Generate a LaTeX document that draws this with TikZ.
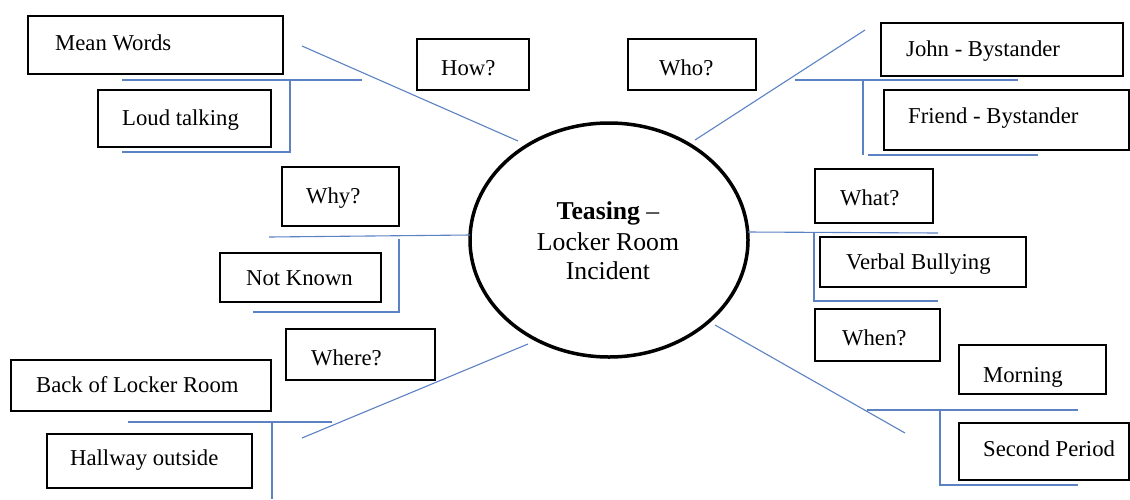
\documentclass[tikz,border=0pt]{standalone}
\usepackage{fontspec}
\setmainfont{Liberation Serif}
\usetikzlibrary{shapes.geometric}
\definecolor{linkblue}{RGB}{92,130,196}
\tikzset{
  box/.style={draw=black, line width=2.2pt, inner sep=0pt, anchor=north west},
  txt/.style={anchor=base west, inner sep=0pt, font=\fontsize{22.7}{27}\selectfont},
  conn/.style={draw=linkblue, line width=1.1pt},
  hub/.style={ellipse, draw=black, line width=3.5pt, minimum width=278pt, minimum height=234pt, inner sep=0pt}
}
\begin{document}
\begin{tikzpicture}[x=1pt,y=-1pt]
\useasboundingbox (0,0) rectangle (1130,499);
\fill[white] (0,0) rectangle (1130,499);

% central ellipse
\node[hub] (hub) at (609,240) {};
\node[anchor=base, inner sep=0pt, font=\fontsize{25.7}{30}\selectfont] (t1) at (608,219) {\textbf{Teasing} --};
\node[anchor=base, inner sep=0pt, font=\fontsize{25.7}{30}\selectfont] (t2) at (608,250) {Locker Room};
\node[anchor=base, inner sep=0pt, font=\fontsize{25.7}{30}\selectfont] (t3) at (608,279) {Incident};

% boxes
\node[box, minimum width=255pt, minimum height=58pt] (bmean) at (27,15) {};
\node[box, minimum width=173pt, minimum height=57pt] (bloud) at (97,89) {};
\node[box, minimum width=112pt, minimum height=51pt] (bhow) at (416,38) {};
\node[box, minimum width=128pt, minimum height=51pt] (bwho) at (627,38) {};
\node[box, minimum width=242pt, minimum height=53pt] (bjohn) at (880,22) {};
\node[box, minimum width=245pt, minimum height=60pt] (bfriend) at (883,89) {};
\node[box, minimum width=117pt, minimum height=59pt] (bwhy) at (281,166) {};
\node[box, minimum width=161pt, minimum height=49pt] (bnot) at (219,252) {};
\node[box, minimum width=118pt, minimum height=54pt] (bwhat) at (814,168) {};
\node[box, minimum width=206pt, minimum height=50pt] (bverbal) at (819,236) {};
\node[box, minimum width=125pt, minimum height=52pt] (bwhen) at (814,308) {};
\node[box, minimum width=147pt, minimum height=49pt] (bmorning) at (958,344) {};
\node[box, minimum width=170pt, minimum height=57pt] (bsecond) at (958,422) {};
\node[box, minimum width=149pt, minimum height=51pt] (bwhere) at (285,328) {};
\node[box, minimum width=260pt, minimum height=51pt] (bback) at (10,359) {};
\node[box, minimum width=205pt, minimum height=54pt] (bhall) at (46,433) {};

% texts
\node[txt] (lmean) at (55,50) {Mean Words};
\node[txt] (lloud) at (122,125) {Loud talking};
\node[txt] (lhow) at (441,75) {How?};
\node[txt] (lwho) at (659,75) {Who?};
\node[txt] (ljohn) at (906,56) {John - Bystander};
\node[txt] (lfriend) at (908,123) {Friend - Bystander};
\node[txt] (lwhy) at (306,203) {Why?};
\node[txt] (lnot) at (246,285) {Not Known};
\node[txt] (lwhat) at (840,205) {What?};
\node[txt] (lverbal) at (846,269) {Verbal Bullying};
\node[txt] (lwhen) at (842,345) {When?};
\node[txt] (lmorning) at (983,382) {Morning};
\node[txt] (lsecond) at (983,456) {Second Period};
\node[txt] (lwhere) at (311,365) {Where?};
\node[txt] (lback) at (36,392) {Back of Locker Room};
\node[txt] (lhall) at (70,465) {Hallway outside};

% connector end points
\coordinate (howA) at (302,46);   \coordinate (howB) at (518,141);
\coordinate (tlA) at (122,80);    \coordinate (tlB) at (362,80);
\coordinate (tlC) at (290,80);    \coordinate (tlD) at (290,152);
\coordinate (tlE) at (122,152);

\coordinate (whoA) at (695,140);  \coordinate (whoB) at (865,30);
\coordinate (trA) at (795,80);    \coordinate (trB) at (1018,80);
\coordinate (trC) at (863,80);    \coordinate (trD) at (863,155);
\coordinate (trE) at (1038,155);

\coordinate (whyA) at (269,237);  \coordinate (whyB) at (470,235);
\coordinate (whyC) at (399,239);  \coordinate (whyD) at (399,312);
\coordinate (whyE) at (253,312);

\coordinate (whatA) at (748,232); \coordinate (whatB) at (938,233);
\coordinate (whatC) at (814,232); \coordinate (whatD) at (814,301);
\coordinate (whatE) at (938,301);

\coordinate (whenA) at (715,325); \coordinate (whenB) at (905,433);
\coordinate (wnA) at (867,410);   \coordinate (wnB) at (1078,410);
\coordinate (wnC) at (940,410);   \coordinate (wnD) at (940,485);
\coordinate (wnE) at (1078,485);

\coordinate (whereA) at (302,438); \coordinate (whereB) at (528,344);
\coordinate (wrA) at (128,422);    \coordinate (wrB) at (332,422);
\coordinate (wrC) at (272,422);    \coordinate (wrD) at (272,499);

% connectors
\draw[conn] (howA) -- (howB);
\draw[conn] (tlA) -- (tlB);
\draw[conn] (tlC) -- (tlD) -- (tlE);

\draw[conn] (whoA) -- (whoB);
\draw[conn] (trA) -- (trB);
\draw[conn] (trC) -- (trD);
\draw[conn] ([xshift=5pt]trD) -- (trE);

\draw[conn] (whyA) -- (whyB);
\draw[conn] (whyC) -- (whyD) -- (whyE);

\draw[conn] (whatA) -- (whatB);
\draw[conn] (whatC) -- (whatD) -- (whatE);

\draw[conn] (whenA) -- (whenB);
\draw[conn] (wnA) -- (wnB);
\draw[conn] (wnC) -- (wnD) -- (wnE);

\draw[conn] (whereA) -- (whereB);
\draw[conn] (wrA) -- (wrB);
\draw[conn] (wrC) -- (wrD);
\end{tikzpicture}
\end{document}
